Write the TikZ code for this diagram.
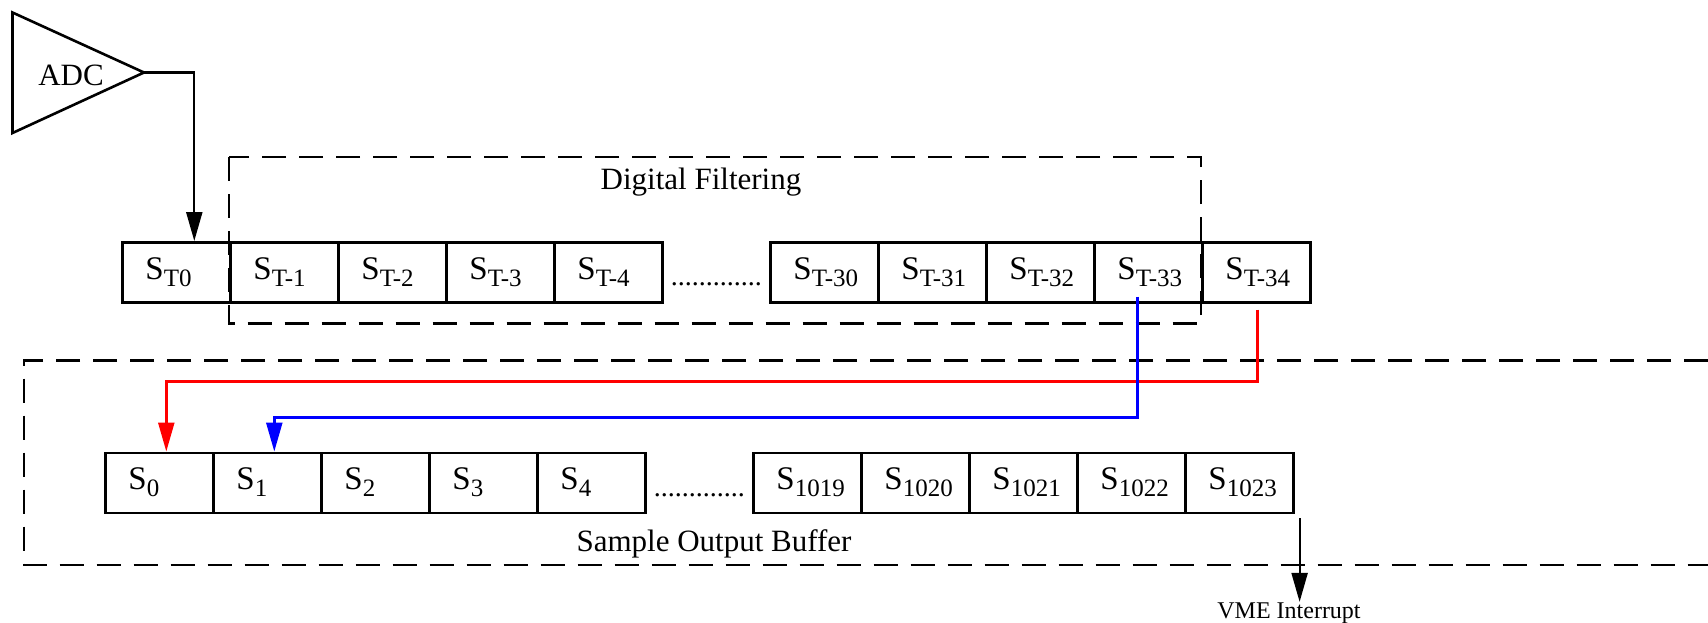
\documentclass[tikz,border=0pt]{standalone}
\usepackage{fontspec}
\setmainfont{Liberation Serif}
\usetikzlibrary{arrows.meta,calc}
% sample name with a lowered index
\newcommand\smp[1]{S\raisebox{-3.5pt}{\fontsize{12.5}{14}\selectfont #1}}
\begin{document}
\begin{tikzpicture}[x=0.5pt,y=-0.5pt,
  cell/.style={draw,line width=1.3pt,minimum width=54pt,minimum height=30pt,
    inner sep=0pt,anchor=north west},
  lbl/.style={anchor=base west,inner sep=0pt,font=\fontsize{16.5}{18}\selectfont},
  title/.style={anchor=base,inner sep=0pt,font=\fontsize{15.5}{18}\selectfont},
  dots/.style={anchor=base,inner sep=0pt,font=\fontsize{14}{16}\selectfont},
  frame/.style={line width=1.3pt,dash pattern=on 12pt off 6.5pt},
  tip/.style={-{Triangle[length=14.5pt,width=8pt]}},
  wire/.style={tip,line width=1.1pt},
  redwire/.style={tip,line width=1.2pt,draw=red},
  bluewire/.style={tip,line width=1.2pt,draw=blue}]
\useasboundingbox (0,0) rectangle (1708,622);

% ADC symbol
\coordinate (adcout) at (144,72.5);
\draw[line width=1.3pt,line join=miter] (12.5,12.5) -- (adcout) -- (12.5,133) -- cycle;
\node[title] (adc) at (71,85) {ADC};

% filter shift register
\node[cell] (t0)  at (121,241) {};
\node[cell] (t1)  at (229,241) {};
\node[cell] (t2)  at (337,241) {};
\node[cell] (t3)  at (445,241) {};
\node[cell] (t4)  at (553,241) {};
\node[cell] (t30) at (769,241) {};
\node[cell] (t31) at (877,241) {};
\node[cell] (t32) at (985,241) {};
\node[cell] (t33) at (1093,241) {};
\node[cell] (t34) at (1201,241) {};
\foreach \c/\s in {t0/T0,t1/T-1,t2/T-2,t3/T-3,t4/T-4,t30/T-30,t31/T-31,t32/T-32,t33/T-33,t34/T-34}
  \node[lbl] (l\c) at ($(\c.west)+(24,7)$) {\smp{\s}};
\node[dots] (dtop) at ($(t4.east)!0.5!(t30.west)+(0,13)$) {.............};

% output buffer
\node[cell] (b0)    at (104,451.5) {};
\node[cell] (b1)    at (212,451.5) {};
\node[cell] (b2)    at (320,451.5) {};
\node[cell] (b3)    at (428,451.5) {};
\node[cell] (b4)    at (536,451.5) {};
\node[cell] (b1019) at (752,451.5) {};
\node[cell] (b1020) at (860,451.5) {};
\node[cell] (b1021) at (968,451.5) {};
\node[cell] (b1022) at (1076,451.5) {};
\node[cell] (b1023) at (1184,451.5) {};
\foreach \c/\s in {b0/0,b1/1,b2/2,b3/3,b4/4,b1019/1019,b1020/1020,b1021/1021,b1022/1022,b1023/1023}
  \node[lbl] (l\c) at ($(\c.west)+(24,7)$) {\smp{\s}};
\node[dots] (dbot) at ($(b4.east)!0.5!(b1019.west)+(0,14)$) {.............};

% dashed groupings
\draw[frame] (t1.west |- 0,157) rectangle (t34.west |- 0,323.5);
\node[title] (dflab) at (701,189.5) {Digital Filtering};
\draw[frame] (1708,360.5) -- (24,360.5) -- (24,565) -- (1708,565);
\node[title] (sblab) at (714,551.5) {Sample Output Buffer};

% connections
\draw[wire] (adcout) -| ($(t0.north)+(18,0)$);
\coordinate (rs) at ($(t34.south)+(1,6)$);
\draw[redwire] (rs) -- ++(0,72) -| ($(b0.north)+(7,0)$);
\coordinate (bs) at ($(t33.south)+(-11,-7)$);
\draw[bluewire] (bs) -- ++(0,121) -| ($(b1.north)+(7,0)$);
\node[anchor=base,inner sep=0pt,font=\fontsize{12}{14}\selectfont] (vme) at (1289,618) {VME Interrupt};
\coordinate (vs) at ($(b1023.south east)+(5,4)$);
\draw[wire] (vs) -- (vs |- vme.north);
\end{tikzpicture}
\end{document}
